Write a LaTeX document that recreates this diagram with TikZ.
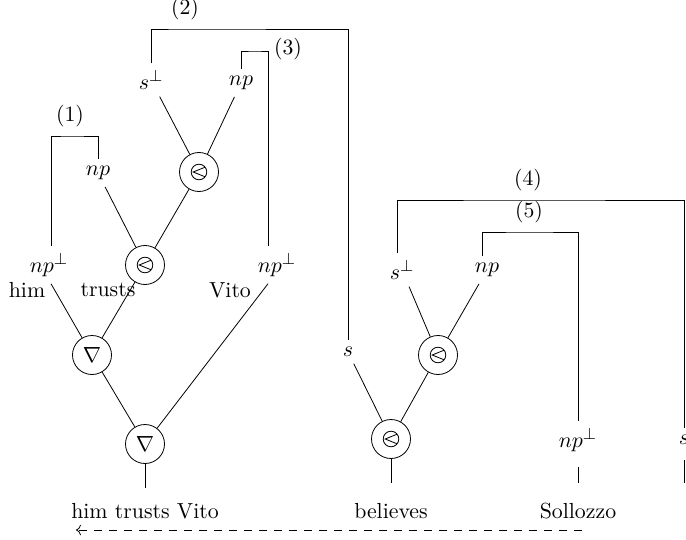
\documentclass[tikz,border=0pt]{standalone}
\usetikzlibrary{arrows.meta}
\begin{document}
\begin{tikzpicture}[x=0.5pt,y=-0.5pt,
  every node/.style={font=\fontsize{10.9}{13}\selectfont},
  tens/.style={circle,draw,minimum size=19.5pt,inner sep=0pt,
    path picture={\draw[shift={(path picture bounding box.center)}] (0,0) circle[radius=3.9pt] (38:3.9pt) -- (-2.9pt,0pt) -- (-38:3.9pt);}},
  parr/.style={circle,draw,minimum size=19.5pt,inner sep=0pt},
  gap/.style={shorten <=4pt},
  dasharrow/.style={dash pattern=on 4pt off 3.5pt,-{To}},
]
\useasboundingbox (0,0) rectangle (686,540);

% left structure
\node (sp1) at (151,80) {$s^{\perp}$};
\node (np1) at (241,83) {$np$};
\node[tens] (tA) at (199,172) {};
\node (np2) at (98,173) {$np$};
\node[tens] (tB) at (145,265) {};
\node (npl) at (49,265) {$np^{\perp}$};
\node (npr) at (277,265) {$np^{\perp}$};
\node (him) at (27,290) {him};
\node (trusts) at (108,290) {trusts};
\node (vito) at (230,290) {Vito};
\node[parr] (n1) at (92,355) {$\nabla$};
\node[parr] (n2) at (145,444) {$\nabla$};
\node (w1) at (145,511) {him trusts Vito};

% right structure
\node (s2) at (348,352) {$s$};
\node (sp2) at (402,270) {$s^{\perp}$};
\node (np3) at (487,270) {$np$};
\node[tens] (tC) at (438,355) {};
\node[tens] (tD) at (391,439) {};
\node (npb) at (578,440) {$np^{\perp}$};
\node (sR) at (684,440) {$s$};
\node (w2) at (391,511) {believes};
\node (w3) at (578,511) {Sollozzo};

% bracket corners and labels
\coordinate (b1) at (70,136);
\coordinate (b2) at (185,29);
\coordinate (b3) at (255,51);
\coordinate (b4) at (528,200);
\coordinate (b5) at (529,232);
\node[above=1pt] (l1) at (b1) {(1)};
\node[above=1pt] (l2) at (b2) {(2)};
\node (l3) at (288,49) {(3)};
\node[above=1pt] (l4) at (b4) {(4)};
\node[above=1pt] (l5) at (b5) {(5)};

% axiom links
\draw ([xshift=1pt]npl.north) |- (b1) -| (np2.north);
\draw (sp1.north) |- (b2) -| (s2.north);
\draw (np1.north) |- (b3) -| ([xshift=-4.5pt]npr.north);
\draw ([xshift=-2.5pt]sp2.north) |- (b4) -| (sR.north);
\draw ([xshift=-2.5pt]np3.north) |- (b5) -| (npb.north);

% tree edges
\draw (sp1) -- (tA);
\draw (np1) -- (tA);
\draw (np2) -- (tB);
\draw (tA) -- (tB);
\draw ([xshift=1pt]npl.south) -- (n1);
\draw (tB) -- (n1);
\draw (n1) -- (n2);
\draw ([xshift=-4.5pt]npr.south) -- (n2);
\draw (sp2) -- (tC);
\draw (np3) -- (tC);
\draw (tC) -- (tD);
\draw (s2) -- (tD);

% conclusions
\coordinate (e1) at (145,488);
\coordinate (e2) at (391,483);
\coordinate (e3) at (578,483);
\coordinate (e4) at (684,483);
\draw (n2) -- (e1);
\draw (tD) -- (e2);
\draw[gap] (npb.south) -- (e3);
\draw[gap] (sR.south) -- (e4);

% dashed arrow
\coordinate (da) at (582,530);
\coordinate (db) at (76,530);
\draw[dasharrow] (da) -- (db);
\end{tikzpicture}
\end{document}
